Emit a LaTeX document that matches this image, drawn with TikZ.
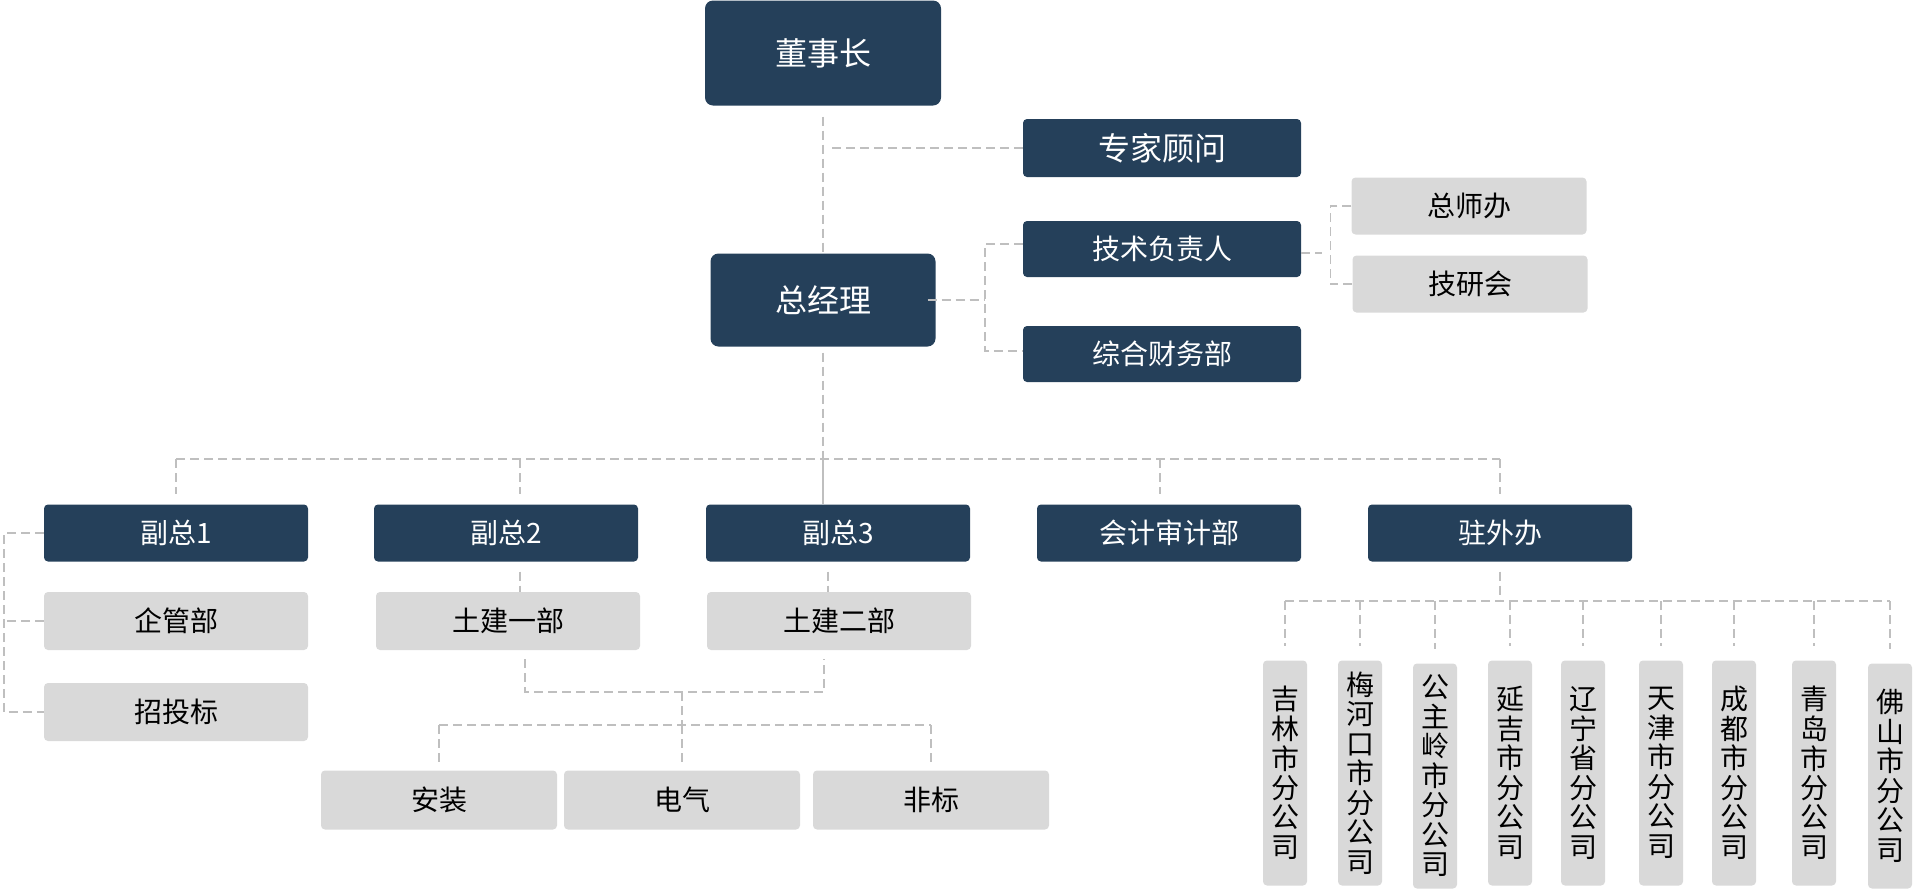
\documentclass[tikz,border=0pt]{standalone}
\usepackage{fontspec}
\newfontfamily\cjk{Noto Sans CJK SC}

\definecolor{navy}{HTML}{25405A}
\definecolor{boxgray}{HTML}{D9D9D9}
\definecolor{linegray}{HTML}{BFBFBF}

\tikzset{
  darkbox/.style={fill=navy, text=white, rounded corners=4pt, inner sep=0pt,
    minimum width=264pt, minimum height=57pt, font=\cjk\fontsize{28}{34}\selectfont},
  bigbox/.style={darkbox, rounded corners=8pt, font=\cjk\fontsize{32}{38}\selectfont},
  graybox/.style={fill=boxgray, text=black, rounded corners=4pt, inner sep=0pt,
    minimum width=264pt, minimum height=58pt, font=\cjk\fontsize{28}{34}\selectfont},
  vbox/.style={graybox, minimum width=44pt, minimum height=225pt, align=center,
    font=\cjk\fontsize{28}{29.5}\selectfont},
  link/.style={draw=linegray, line width=1.6pt, dash pattern=on 9pt off 5pt},
  solidlink/.style={draw=linegray, line width=1.6pt}
}

\begin{document}
\begin{tikzpicture}[x=1pt, y=-1pt]
  \path[use as bounding box] (0,0) rectangle (1923,892);

  % top of the tree
  \node[bigbox, minimum width=236pt, minimum height=105pt] (dsz) at (823,53) {董事长};
  \node[bigbox, minimum width=225pt, minimum height=93pt] (zjl) at (823,300) {总经理};
  \node[darkbox, minimum width=278pt, minimum height=58pt, font=\cjk\fontsize{32}{38}\selectfont] (zjgw) at (1162,148) {专家顾问};
  \node[darkbox, minimum width=278pt, minimum height=56pt] (jsfzr) at (1162,249) {技术负责人};
  \node[darkbox, minimum width=278pt, minimum height=56pt] (zhcw) at (1162,354) {综合财务部};
  \node[graybox, minimum width=235pt, minimum height=57pt] (zsb) at (1469,206) {总师办};
  \node[graybox, minimum width=235pt, minimum height=57pt] (jyh) at (1470,284) {技研会};

  % second row
  \node[darkbox] (fz1) at (176,533) {副总1};
  \node[darkbox] (fz2) at (506,533) {副总2};
  \node[darkbox] (fz3) at (838,533) {副总3};
  \node[darkbox] (kjsj) at (1169,533) {会计审计部};
  \node[darkbox] (zwb) at (1500,533) {驻外办};

  \node[graybox] (qgb) at (176,621) {企管部};
  \node[graybox] (ztb) at (176,712) {招投标};
  \node[graybox] (tj1) at (508,621) {土建一部};
  \node[graybox] (tj2) at (839,621) {土建二部};

  \node[graybox, minimum width=236pt, minimum height=59pt] (az) at (439,800) {安装};
  \node[graybox, minimum width=236pt, minimum height=59pt] (dq) at (682,800) {电气};
  \node[graybox, minimum width=236pt, minimum height=59pt] (fb) at (931,800) {非标};

  % branch offices
  \node[vbox] (jl) at (1285,773) {吉\\林\\市\\分\\公\\司};
  \node[vbox] (mhk) at (1360,773) {梅\\河\\口\\市\\分\\公\\司};
  \node[vbox] (gzl) at (1435,776) {公\\主\\岭\\市\\分\\公\\司};
  \node[vbox] (yj) at (1510,773) {延\\吉\\市\\分\\公\\司};
  \node[vbox] (ln) at (1583,773) {辽\\宁\\省\\分\\公\\司};
  \node[vbox] (tjin) at (1661,773) {天\\津\\市\\分\\公\\司};
  \node[vbox] (cd) at (1734,773) {成\\都\\市\\分\\公\\司};
  \node[vbox] (qd) at (1814,773) {青\\岛\\市\\分\\公\\司};
  \node[vbox] (fs) at (1890,776) {佛\\山\\市\\分\\公\\司};

  \coordinate (bus) at (0,459);
  \coordinate (join) at (0,692);
  \coordinate (row3) at (0,725);
  \coordinate (row4) at (0,601);
  \coordinate (fz2in) at ([xshift=14pt]fz2.north);
  \coordinate (kjsjin) at ([xshift=-9pt]kjsj.north);
  \coordinate (tj1out) at ([xshift=17pt]tj1.south);
  \coordinate (tj2out) at ([xshift=-15pt]tj2.south);

  % connectors
  \draw[link] ([yshift=-11pt]dsz.south) -- (zjl.north);
  \draw[link] (zjgw.west) -- ([xshift=9pt]zjgw.west -| dsz.south);
  \draw[link] ([yshift=5pt]jsfzr.west) -- ++(-38,0) coordinate (forka) |- ([yshift=3pt]zhcw.west);
  \draw[link] ([xshift=-8pt]zjl.east) -- (zjl.east -| forka);
  \draw[link] (zsb.west) -- ++(-21,0) coordinate (forkb) |- (jyh.west);
  \draw[link] ([yshift=-4pt]jsfzr.east) -- ++(21,0);

  \draw[link] ([yshift=-6pt]zjl.south) -- (zjl.south |- bus);
  \draw[solidlink] (zjl.south |- bus) -- (zjl.south |- fz3.north);
  \draw[link] (fz1.north |- bus) -- (zwb.north |- bus);
  \foreach \n in {fz1.north,fz2in,kjsjin,zwb.north}
    \draw[link] (\n |- bus) -- ([yshift=10pt]\n);

  \draw[link] (fz1.west) -- ++(-40,0) coordinate (forkc) |- (ztb.west);
  \draw[link] (qgb.west) -- (qgb.west -| forkc);
  \draw[link] ([yshift=-10pt]fz2.south -| fz2in) -- (fz2in |- tj1.north);
  \draw[link] ([xshift=-10pt,yshift=-10pt]fz3.south) -- ([xshift=-10pt]fz3.south |- tj2.north);

  \draw[link] ([yshift=-9pt]tj1out) -- (tj1out |- join) -| ([yshift=-9pt]tj2out);
  \draw[link] (dq.north |- join) -- (dq.north |- row3);
  \draw[link] (az.north |- row3) -- (fb.north |- row3);
  \foreach \n in {az,dq,fb}
    \draw[link] (\n.north |- row3) -- ([yshift=8pt]\n.north);

  \draw[link] ([yshift=-10pt]zwb.south) -- (zwb.south |- row4);
  \draw[link] (jl.north |- row4) -- (fs.north |- row4);
  \foreach \n in {jl,mhk,gzl,yj,ln,tjin,cd,qd,fs}
    \draw[link] (\n.north |- row4) -- ([yshift=14pt]\n.north);
\end{tikzpicture}
\end{document}
